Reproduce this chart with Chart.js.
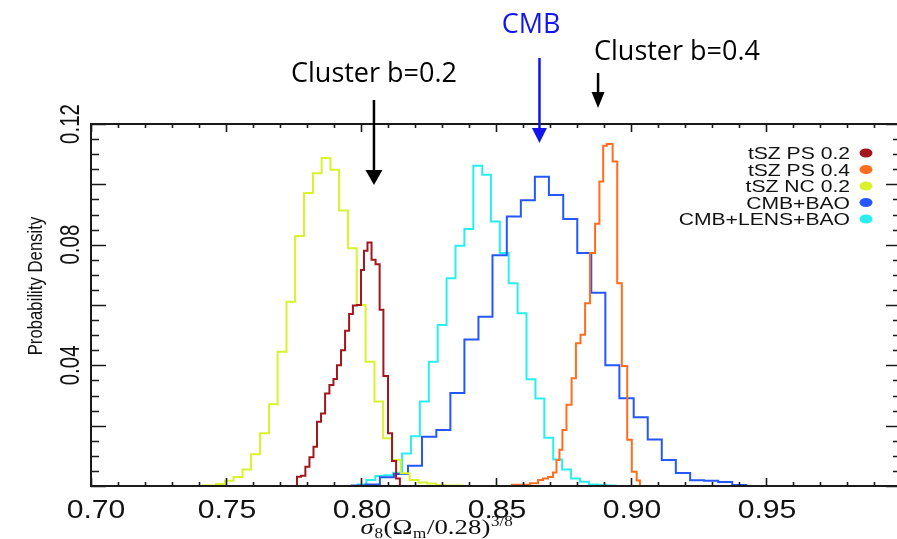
<!DOCTYPE html>
<html>
<head>
<meta charset="utf-8">
<script src="https://cdn.jsdelivr.net/npm/chart.js@4.4.1/dist/chart.umd.min.js"></script>
<style>
  html, body { margin: 0; padding: 0; background: #fff; }
  #wrap { width: 897px; height: 539px; }
</style>
</head>
<body>
<div id="wrap"><canvas id="hist" width="897" height="539"></canvas></div>
<script>
// histogram data: bin edges (sigma8 (Om/0.28)^3/8) and densities per bin
const labels = ['tSZ PS 0.2', 'tSZ PS 0.4', 'tSZ NC 0.2', 'CMB+BAO', 'CMB+LENS+BAO'];
const colores = ['#a3161b', '#ff6d1f', '#d8f22c', '#2457ff', '#2aeeee'];

const psEdges02 = [0.7763, 0.7778, 0.7794, 0.7809, 0.7824, 0.7837, 0.7852, 0.7867, 0.7883, 0.7898,
  0.7911, 0.7926, 0.7941, 0.7956, 0.7970, 0.7985, 0.8000, 0.8011, 0.8024, 0.8039,
  0.8054, 0.8069, 0.8083, 0.8100, 0.8115, 0.8130, 0.8144];
const psDens02 = [0.0031, 0.0034, 0.0064, 0.0095, 0.0130, 0.0213, 0.0240, 0.0307, 0.0335, 0.0355,
  0.0400, 0.0450, 0.0515, 0.0570, 0.0598, 0.0600, 0.0716, 0.0780, 0.0807, 0.0750,
  0.0735, 0.0584, 0.0365, 0.0175, 0.0083, 0.0025];

const psEdges04 = [0.8559, 0.8626, 0.8656, 0.8674, 0.8693, 0.8711, 0.8724, 0.8735, 0.8746, 0.8761,
  0.8780, 0.8796, 0.8813, 0.8830, 0.8848, 0.8867, 0.8883, 0.8897, 0.8910, 0.8932,
  0.8949, 0.8966, 0.8986, 0.9003, 0.9021, 0.9033];
const psDens04 = [0.0004, 0.0009, 0.0020, 0.0025, 0.0030, 0.0045, 0.0086, 0.0120, 0.0186, 0.0269,
  0.0357, 0.0473, 0.0501, 0.0606, 0.0772, 0.0869, 0.1009, 0.1128, 0.1134, 0.1076,
  0.0672, 0.0398, 0.0153, 0.0047, 0.0018];

const ncEdges02 = [0.7415, 0.7463, 0.7496, 0.7528, 0.7561, 0.7593, 0.7626, 0.7659, 0.7691, 0.7724,
  0.7756, 0.7789, 0.7822, 0.7854, 0.7887, 0.7919, 0.7952, 0.7984, 0.8017, 0.8050,
  0.8082, 0.8115, 0.8147, 0.8180, 0.8213, 0.8245, 0.8278, 0.8310, 0.8343, 0.8376];
const ncDens02 = [0.0002, 0.0007, 0.0017, 0.0030, 0.0055, 0.0105, 0.0175, 0.0271, 0.0445, 0.0611,
  0.0829, 0.0971, 0.1037, 0.1087, 0.1048, 0.0913, 0.0788, 0.0600, 0.0412, 0.0280,
  0.0158, 0.0086, 0.0042, 0.0020, 0.0012, 0.0008, 0.0003, 0.0002, 0.0002];

const baoEdges = [0.7965, 0.8017, 0.8070, 0.8122, 0.8174, 0.8226, 0.8279, 0.8331, 0.8383, 0.8435,
  0.8487, 0.8540, 0.8592, 0.8644, 0.8696, 0.8749, 0.8801, 0.8853, 0.8905, 0.8957,
  0.9010, 0.9062, 0.9114, 0.9166, 0.9219, 0.9271, 0.9323, 0.9375, 0.9427];
const baoDens = [0.0002, 0.0005, 0.0029, 0.0040, 0.0067, 0.0163, 0.0186, 0.0308, 0.0486, 0.0561,
  0.0765, 0.0893, 0.0947, 0.1025, 0.0965, 0.0885, 0.0772, 0.0641, 0.0400, 0.0291,
  0.0228, 0.0154, 0.0086, 0.0043, 0.0019, 0.0017, 0.0013, 0.0003];

const lensEdges = [0.7987, 0.8020, 0.8053, 0.8086, 0.8119, 0.8152, 0.8185, 0.8218, 0.8251, 0.8284,
  0.8317, 0.8350, 0.8383, 0.8416, 0.8449, 0.8481, 0.8514, 0.8547, 0.8580, 0.8613,
  0.8646, 0.8679, 0.8712, 0.8745, 0.8778, 0.8811, 0.8844, 0.8877, 0.8910, 0.8943];
const lensDens = [0.0005, 0.0020, 0.0033, 0.0036, 0.0044, 0.0108, 0.0165, 0.0280, 0.0412, 0.0534,
  0.0689, 0.0796, 0.0852, 0.1062, 0.1032, 0.0877, 0.0772, 0.0672, 0.0573, 0.0354,
  0.0290, 0.0160, 0.0088, 0.0055, 0.0025, 0.0014, 0.0005, 0.0004, 0.0002];

// ticks
const xMajor = [0.70, 0.75, 0.80, 0.85, 0.90, 0.95, 1.00];
const xTickLabels = ['0.70', '0.75', '0.80', '0.85', '0.90', '0.95'];
const yLabelVals = [0.04, 0.08, 0.12];
const yTickLabels = ['0.04', '0.08', '0.12'];

// arrows (x in data units)
const arrowB02 = 0.8048;
const arrowCMB = 0.8661;
const arrowB04 = 0.8878;

function histo(edges, dens) {
    const pts = [{ x: edges[0], y: 0 }];
    dens.forEach((d, i) => pts.push({ x: edges[i], y: d }));
    pts.push({ x: edges[edges.length - 1], y: 0 });
    return pts;
}

const series = [
    histo(psEdges02, psDens02),
    histo(psEdges04, psDens04),
    histo(ncEdges02, ncDens02),
    histo(baoEdges, baoDens),
    histo(lensEdges, lensDens)
];

function texto(ctx, str, x, y, font, color, align, sx) {
    ctx.save();
    ctx.translate(x, y);
    ctx.scale(sx || 1, 1);
    ctx.font = font;
    ctx.fillStyle = color;
    ctx.textAlign = align || 'left';
    ctx.textBaseline = 'alphabetic';
    ctx.fillText(str, 0, 0);
    ctx.restore();
}

function flecha(ctx, x, y1, y2, headH, headW, color, lw) {
    ctx.save();
    ctx.strokeStyle = color;
    ctx.fillStyle = color;
    ctx.lineWidth = lw;
    ctx.beginPath();
    ctx.moveTo(x, y1);
    ctx.lineTo(x, y2 - headH + 1);
    ctx.stroke();
    ctx.beginPath();
    ctx.moveTo(x - headW / 2, y2 - headH);
    ctx.lineTo(x + headW / 2, y2 - headH);
    ctx.lineTo(x, y2);
    ctx.closePath();
    ctx.fill();
    ctx.restore();
}

const marco = {
    id: 'marco',
    afterDatasetsDraw(chart) {
        const { ctx, chartArea: a, scales: { x, y } } = chart;
        const right = x.getPixelForValue(1.00);
        ctx.save();
        ctx.strokeStyle = '#1a1a1a';
        ctx.lineWidth = 2;
        ctx.strokeRect(a.left, a.top, right - a.left, a.bottom - a.top);

        // x ticks, bottom and top, inward
        ctx.lineWidth = 1.6;
        ctx.beginPath();
        for (let i = 0; i <= 30; i++) {
            const v = 0.70 + i * 0.01;
            const px = Math.round(x.getPixelForValue(v)) + 0.5;
            const len = (i % 5 === 0) ? 8 : 4;
            ctx.moveTo(px, a.bottom); ctx.lineTo(px, a.bottom - len);
            ctx.moveTo(px, a.top); ctx.lineTo(px, a.top + len);
        }
        // y ticks, left and right, inward
        for (let i = 0; i <= 24; i++) {
            const v = i * 0.005;
            const py = Math.round(y.getPixelForValue(v)) + 0.5;
            const len = (i % 4 === 0) ? 15 : 8;
            ctx.moveTo(a.left, py); ctx.lineTo(a.left + len, py);
            ctx.moveTo(right, py); ctx.lineTo(right - len, py);
        }
        ctx.stroke();
        ctx.restore();

        // x tick labels
        xTickLabels.forEach((t, i) => {
            const dx = i === 0 ? 5 : 1;
            texto(ctx, t, x.getPixelForValue(xMajor[i]) + dx, 518, '26px "Liberation Sans"', '#111', 'center', 1.16);
        });
        // y tick labels, rotated
        yTickLabels.forEach((t, i) => {
            ctx.save();
            ctx.translate(79, y.getPixelForValue(yLabelVals[i]));
            ctx.rotate(-Math.PI / 2);
            ctx.scale(1, 1.35);
            ctx.font = '20.5px "Liberation Sans"';
            ctx.fillStyle = '#111';
            ctx.textAlign = 'center';
            ctx.fillText(t, 0, 0);
            ctx.restore();
        });
        // y title
        ctx.save();
        ctx.translate(42, 286);
        ctx.rotate(-Math.PI / 2);
        ctx.scale(0.93, 1.1);
        ctx.font = '18px "Liberation Sans"';
        ctx.fillStyle = '#111';
        ctx.textAlign = 'center';
        ctx.fillText('Probability Density', 0, 0);
        ctx.restore();

        // x title: sigma_8 (Omega_m / 0.28)^{3/8}
        const serif = '"Liberation Serif"';
        const parts = [
            ['σ', 'italic 22px ' + serif, 0],
            ['8', '14px ' + serif, 4],
            ['(Ω', '22px ' + serif, 0],
            ['m', '14px ' + serif, 4],
            ['/0.28)', '22px ' + serif, 0],
            ['3/8', '14px ' + serif, -8]
        ];
        let total = 0;
        parts.forEach(p => { ctx.font = p[1]; total += ctx.measureText(p[0]).width + 0.5; });
        const sxT = 1.22;
        ctx.save();
        ctx.translate(437 - total * sxT / 2, 534);
        ctx.scale(sxT, 1);
        let cx = 0;
        parts.forEach(p => {
            ctx.font = p[1];
            ctx.fillStyle = '#111';
            ctx.textAlign = 'left';
            ctx.fillText(p[0], cx, p[2]);
            cx += ctx.measureText(p[0]).width + 0.5;
        });
        ctx.restore();

        // legend, text right aligned, dot at right
        labels.forEach((l, i) => {
            const ly = 153 + i * 16.5;
            texto(ctx, l, 850, ly + 6, '16.5px "Liberation Sans"', '#111', 'right', 1.28);
            ctx.save();
            ctx.fillStyle = colores[i];
            ctx.beginPath();
            ctx.ellipse(866, ly, 6.5, 4.5, 0, 0, Math.PI * 2);
            ctx.fill();
            ctx.restore();
        });

        // annotations
        const sans = '"Open Sans"';
        texto(ctx, 'Cluster b=0.2', 374, 82, '27px ' + sans, '#000', 'center', 1);
        texto(ctx, 'CMB', 531, 33, '27px ' + sans, '#1414f0', 'center', 1);
        texto(ctx, 'Cluster b=0.4', 677, 60, '27px ' + sans, '#000', 'center', 1);
        flecha(ctx, x.getPixelForValue(arrowB02), 100, 185, 15, 17, '#000', 2.5);
        flecha(ctx, x.getPixelForValue(arrowCMB), 58, 143, 15, 15, '#1414f0', 2.5);
        flecha(ctx, x.getPixelForValue(arrowB04), 73, 108, 16, 13, '#000', 2.5);
    }
};

new Chart(document.getElementById('hist'), {
    type: 'line',
    data: {
        datasets: series.map((s, i) => ({
            label: labels[i],
            data: s,
            borderColor: colores[i],
            borderWidth: 2,
            stepped: true,
            pointRadius: 0,
            fill: false
        }))
    },
    options: {
        responsive: false,
        animation: false,
        layout: { padding: { left: 91, right: 1, top: 124, bottom: 53 } },
        plugins: {
            legend: { display: false },
            tooltip: { enabled: false }
        },
        scales: {
            x: { type: 'linear', min: 0.70, max: 0.99815, display: false },
            y: { type: 'linear', min: 0, max: 0.12, display: false }
        }
    },
    plugins: [marco]
});
</script>
</body>
</html>
